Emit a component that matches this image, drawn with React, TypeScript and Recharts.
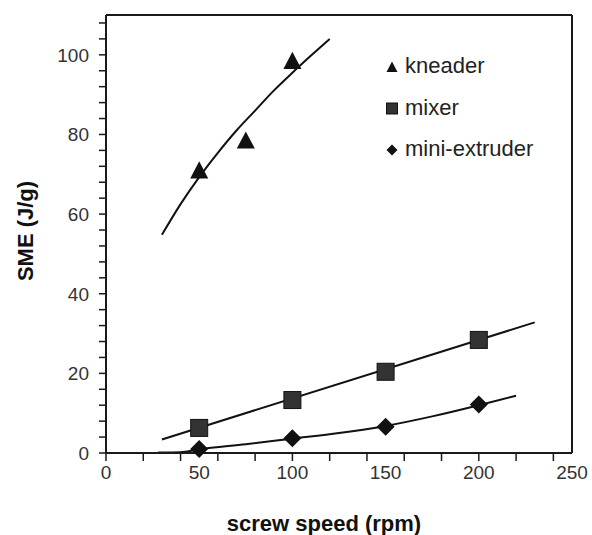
import { ComposedChart, Line, Scatter, XAxis, YAxis, ReferenceLine } from 'recharts'

const font = '"Liberation Sans", Arial, sans-serif'
const ink = '#1a1a1a'

// measured points
const seriesNames = ['kneader', 'mixer', 'mini-extruder']
const kneaderSpeed = [50, 75, 100]
const kneaderSme = [71, 78.5, 98.5]
const mixerSpeed = [50, 100, 150, 200]
const mixerSme = [6.3, 13.3, 20.4, 28.4]
const miniSpeed = [50, 100, 150, 200]
const miniSme = [1.0, 3.7, 6.6, 12.2]

// trend lines
const kneaderFitSpeed = [30, 40, 50, 60, 70, 80, 90, 100, 110, 120]
const kneaderFitSme = [54.8, 62.5, 69.3, 75.4, 81, 86, 91, 95.5, 99.8, 104]
const mixerFitSpeed = [30, 230]
const mixerFitSme = [3.4, 32.8]
const miniFitSpeed = [28, 40, 50, 75, 100, 125, 150, 175, 200, 220]
const miniFitSme = [0.1, 0.2, 0.9, 2.2, 3.6, 5.0, 6.8, 9.2, 12.0, 14.4]

// axes
const xLabelTicks = [0, 50, 100, 150, 200, 250]
const xMinorTicks = [0, 20, 40, 60, 80, 100, 120, 140, 160, 180, 200, 220, 240]
const yLabelTicks = [0, 20, 40, 60, 80, 100]
const yMinorTicks = [0, 4, 8, 12, 16, 20, 24, 28, 32, 36, 40, 44, 48, 52, 56, 60, 64, 68, 72, 76, 80, 84, 88, 92, 96, 100, 104, 108]

const xTicks = Array.from(new Set([...xLabelTicks, ...xMinorTicks])).sort((a, b) => a - b)

const rows = (xs: number[], ys: number[]) => xs.map((speed, i) => ({ speed, sme: ys[i] }))

function XTick({ x, y, payload }: any) {
  const v = payload.value
  return (
    <g>
      {xMinorTicks.includes(v) && <line x1={x} x2={x} y1={y} y2={y + 8} stroke={ink} strokeWidth={1.5} />}
      {xLabelTicks.includes(v) && (
        <text x={x} y={y + 26} textAnchor="middle" fontSize={19} fill="#333" fontFamily={font}>
          {v}
        </text>
      )}
    </g>
  )
}

function YTick({ x, y, payload }: any) {
  const v = payload.value
  return (
    <g>
      <line x1={x - 7} x2={x} y1={y} y2={y} stroke={ink} strokeWidth={1.5} />
      {yLabelTicks.includes(v) && (
        <text x={x - 17} y={y + 7} textAnchor="end" fontSize={19} fill="#333" fontFamily={font}>
          {v}
        </text>
      )}
    </g>
  )
}

const Triangle = ({ cx, cy, s = 9 }: any) => (
  <polygon points={`${cx},${cy - s} ${cx + s},${cy + s * 0.9} ${cx - s},${cy + s * 0.9}`} fill="#111" />
)
const Square = ({ cx, cy, s = 8.5 }: any) => (
  <rect x={cx - s} y={cy - s} width={s * 2} height={s * 2} fill="#333" stroke="#111" strokeWidth={1} />
)
const Diamond = ({ cx, cy, s = 9 }: any) => (
  <polygon points={`${cx},${cy - s} ${cx + s},${cy} ${cx},${cy + s} ${cx - s},${cy}`} fill="#111" />
)

const legendMarkers = [Triangle, Square, Diamond]

export default function App() {
  return (
    <div style={{ position: 'absolute', left: 0, top: 0, width: 592, height: 535, background: '#fff' }}>
      <ComposedChart width={592} height={535} margin={{ top: 15, right: 20, left: 46, bottom: 52 }}>
        <XAxis
          type="number"
          dataKey="speed"
          domain={[0, 250]}
          ticks={xTicks}
          interval={0}
          tickSize={0}
          tickMargin={0}
          tickLine={false}
          tick={(p: any) => <XTick {...p} />}
          axisLine={{ stroke: ink, strokeWidth: 2 }}
          height={30}
        />
        <YAxis
          type="number"
          dataKey="sme"
          domain={[0, 110]}
          ticks={yMinorTicks}
          interval={0}
          tickSize={0}
          tickMargin={0}
          tickLine={false}
          tick={(p: any) => <YTick {...p} />}
          axisLine={{ stroke: ink, strokeWidth: 2 }}
          width={60}
        />
        <ReferenceLine y={110} stroke={ink} strokeWidth={2} />
        <ReferenceLine x={250} stroke={ink} strokeWidth={2} />

        <Line data={rows(kneaderFitSpeed, kneaderFitSme)} dataKey="sme" type="monotone" stroke="#111" strokeWidth={2} dot={false} activeDot={false} isAnimationActive={false} />
        <Line data={rows(mixerFitSpeed, mixerFitSme)} dataKey="sme" type="linear" stroke="#111" strokeWidth={2} dot={false} activeDot={false} isAnimationActive={false} />
        <Line data={rows(miniFitSpeed, miniFitSme)} dataKey="sme" type="monotone" stroke="#111" strokeWidth={2} dot={false} activeDot={false} isAnimationActive={false} />

        <Scatter name={seriesNames[0]} data={rows(kneaderSpeed, kneaderSme)} shape={(p: any) => <Triangle cx={p.cx} cy={p.cy} />} isAnimationActive={false} />
        <Scatter name={seriesNames[1]} data={rows(mixerSpeed, mixerSme)} shape={(p: any) => <Square cx={p.cx} cy={p.cy} />} isAnimationActive={false} />
        <Scatter name={seriesNames[2]} data={rows(miniSpeed, miniSme)} shape={(p: any) => <Diamond cx={p.cx} cy={p.cy} />} isAnimationActive={false} />
      </ComposedChart>

      <svg width={592} height={535} style={{ position: 'absolute', left: 0, top: 0, pointerEvents: 'none' }}>
        {seriesNames.map((name, i) => {
          const Marker = legendMarkers[i]
          const cy = 67 + i * 41.5
          return (
            <g key={name}>
              <Marker cx={392} cy={cy} s={5.5} />
              <text x={405} y={cy + 6} fontSize={22} fill="#222" fontFamily={font}>
                {name}
              </text>
            </g>
          )
        })}
        <text x={324} y={531} textAnchor="middle" fontSize={22} fontWeight="bold" fill="#111" fontFamily={font}>
          screw speed (rpm)
        </text>
        <text
          x={0}
          y={0}
          transform="translate(33 231) rotate(-90)"
          textAnchor="middle"
          fontSize={22}
          fontWeight="bold"
          fill="#111"
          fontFamily={font}
        >
          SME (J/g)
        </text>
      </svg>
    </div>
  )
}
